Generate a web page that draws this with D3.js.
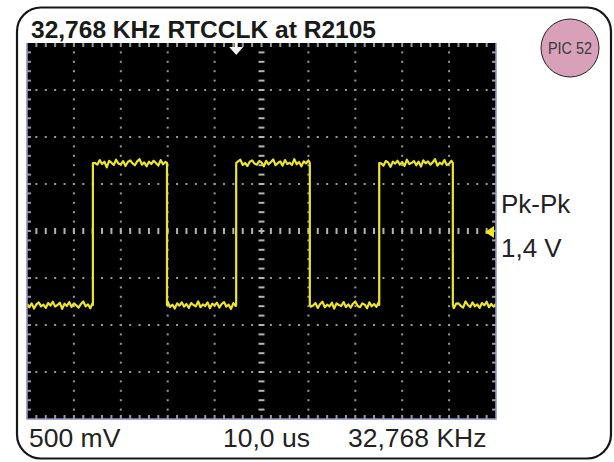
<!DOCTYPE html>
<html>
<head>
<meta charset="utf-8">
<script src="https://cdn.jsdelivr.net/npm/d3@7"></script>
<style>
  html, body { margin: 0; padding: 0; background: #fff; }
  svg { display: block; }
</style>
</head>
<body>
<svg id="chart" width="614" height="462"></svg>
<script>
// ---- labels ----
const titleText = "32,768 KHz RTCCLK at R2105";
const badgeText = "PIC 52";
const measureLabels = ["Pk-Pk", "1,4 V"];
const footerLabels = ["500 mV", "10,0 us", "32,768 KHz"];

// ---- scope settings ----
const timeDomain = [0, 100];       // us across the screen (10 us/div)
const divisionsX = 10;
const divisionsY = 8;
const minorPerDiv = 5;

// ---- captured clock waveform ----
const riseTimes = [14.05, 44.6, 75.1];   // us
const fallTimes = [29.85, 60.3, 90.8];   // us
const lowLevel = 0.0;                    // V
const highLevel = 1.4;                   // V (Pk-Pk 1,4 V)
const triggerTime = 44.6;                // us
const triggerLevel = 0.72;               // V
const sampleStep = 0.5;                  // us between samples
// noise riding on each sample, mV
const rippleMv = [
  10,-22,16,-35,6,26,-13,3,-29,19,-6,32,-16,0,22,-38,13,-10,29,-19,
  16,-3,-26,10,35,-13,6,-32,19,0,-16,29,-10,13,-42,22,3,-19,32,-6,
  -13,19,-29,10,26,-3,-22,16,38,-16,6,-32,13,-10,22,0,-26,29,-13,10,
  32,-19,3,-35,16,-6,26,-16,10,-29,19,0,-13,35,-22,6,-10,26,-32,13,
  -3,22,-26,10,29,-16,3,-38,19,-10,16,32,-19,0,-29,13,26,-6,-16,19,
  6,-32,22,-13,10,35,-22,0,16,-26,29,-10,3,-19,38,-13,10,-32,16,-3,
  26,-16,-6,19,-29,10,32,-22,3,-13,22,-35,16,0,-10,29,-19,6,-26,13,
  35,-10,-22,16,3,-32,26,-13,10,-19,29,-3,-26,19,6,-38,13,-6,22,-16,
  10,-29,32,-10,0,19,-22,13,-35,26,-3,16,-16,6,38,-26,3,-13,29,-19,
  -6,22,-32,13,16,-10,-26,35,0,-19,26,-13,6,-29,19,-3,32,-22,10,-16,
  13
];

// ---- layout ----
const svg = d3.select("#chart");
const screen = { left: 27, right: 496, top: 43, bottom: 419 };

const gx = d3.scaleLinear().domain([0, divisionsX]).range([screen.left, screen.right]);
const gy = d3.scaleLinear().domain([0, divisionsY]).range([screen.top, screen.bottom]);
const x = d3.scaleLinear().domain(timeDomain).range([screen.left, screen.right]);
const y = d3.scaleLinear().domain([lowLevel, highLevel]).range([305, 163]);

// outer rounded frame
svg.append("rect")
  .attr("x", 17).attr("y", 7.5)
  .attr("width", 594).attr("height", 451)
  .attr("rx", 24).attr("ry", 24)
  .attr("fill", "#fff")
  .attr("stroke", "#161616")
  .attr("stroke-width", 2.2);

// title
svg.append("text")
  .attr("x", 31).attr("y", 38)
  .attr("font-family", "'Liberation Sans', Arial, sans-serif")
  .attr("font-weight", "bold")
  .attr("font-size", 23)
  .attr("fill", "#1a1a1a")
  .attr("textLength", 345)
  .attr("lengthAdjust", "spacingAndGlyphs")
  .text(titleText);

// badge
const badge = svg.append("g").attr("transform", "translate(570,48)");
badge.append("circle").attr("r", 29)
  .attr("fill", "#d9a1b9").attr("stroke", "#222").attr("stroke-width", 1);
badge.append("text")
  .attr("text-anchor", "middle").attr("y", 6)
  .attr("font-family", "'Liberation Sans Narrow', 'Liberation Sans', Arial, sans-serif")
  .attr("font-size", 16)
  .attr("fill", "#3a3a3a")
  .attr("textLength", 44)
  .attr("lengthAdjust", "spacingAndGlyphs")
  .text(badgeText);

// scope screen
const scope = svg.append("g");
scope.append("rect")
  .attr("x", screen.left).attr("y", screen.top)
  .attr("width", screen.right - screen.left)
  .attr("height", screen.bottom - screen.top)
  .attr("fill", "#000");

const minorX = d3.range(0, divisionsX * minorPerDiv + 1).map(i => i / minorPerDiv);
const minorY = d3.range(0, divisionsY * minorPerDiv + 1).map(i => i / minorPerDiv);
const grid = scope.append("g").attr("fill", "#9a9a9a");

// dotted graticule lines
d3.range(1, divisionsX).filter(k => k !== divisionsX / 2).forEach(k => {
  grid.selectAll(null).data(minorY.slice(1, -1)).join("rect")
    .attr("x", gx(k) - 1).attr("y", d => gy(d) - 1)
    .attr("width", 2).attr("height", 2);
});
d3.range(1, divisionsY).filter(k => k !== divisionsY / 2).forEach(k => {
  grid.selectAll(null).data(minorX.slice(1, -1)).join("rect")
    .attr("x", d => gx(d) - 1).attr("y", gy(k) - 1)
    .attr("width", 2).attr("height", 2);
});
// centre cross with tick dashes
grid.selectAll(null).data(minorY.slice(1, -1)).join("rect")
  .attr("x", gx(divisionsX / 2) - 3).attr("y", d => gy(d) - 1)
  .attr("width", 6).attr("height", 2).attr("fill", "#b4b4b4");
grid.selectAll(null).data(minorX.slice(1, -1)).join("rect")
  .attr("x", d => gx(d) - 1).attr("y", gy(divisionsY / 2) - 3)
  .attr("width", 2).attr("height", 6).attr("fill", "#b4b4b4");
// edge ticks
grid.selectAll(null).data(minorX.slice(1, -1)).join("rect")
  .attr("x", d => gx(d) - 1).attr("y", screen.top)
  .attr("width", 2).attr("height", 4);
grid.selectAll(null).data(minorX.slice(1, -1)).join("rect")
  .attr("x", d => gx(d) - 1).attr("y", screen.bottom - 4)
  .attr("width", 2).attr("height", 4);
grid.selectAll(null).data(minorY.slice(1, -1)).join("rect")
  .attr("x", screen.left).attr("y", d => gy(d) - 1)
  .attr("width", 4).attr("height", 2);
grid.selectAll(null).data(minorY.slice(1, -1)).join("rect")
  .attr("x", screen.right - 4).attr("y", d => gy(d) - 1)
  .attr("width", 4).attr("height", 2);

// build the trace: flat levels with noise, vertical edges
const edges = riseTimes.map(t => ({ t, to: highLevel }))
  .concat(fallTimes.map(t => ({ t, to: lowLevel })))
  .sort((a, b) => a.t - b.t);
const trace = [];
let level = lowLevel, e = 0;
rippleMv.forEach((mv, i) => {
  const t = i * sampleStep;
  while (e < edges.length && edges[e].t <= t) {
    trace.push([edges[e].t, level]);
    level = edges[e].to;
    trace.push([edges[e].t, level]);
    e++;
  }
  trace.push([t, level + mv / 1000]);
});

svg.append("clipPath").attr("id", "screenClip")
  .append("rect")
  .attr("x", screen.left).attr("y", screen.top)
  .attr("width", screen.right - screen.left)
  .attr("height", screen.bottom - screen.top);

scope.append("path")
  .datum(trace)
  .attr("clip-path", "url(#screenClip)")
  .attr("fill", "none")
  .attr("stroke", "#ece52a")
  .attr("stroke-width", 2.2)
  .attr("stroke-linejoin", "round")
  .attr("d", d3.line().x(d => x(d[0])).y(d => y(d[1])));

// trigger markers
const tx = x(triggerTime);
scope.append("rect")
  .attr("x", tx - 1.5).attr("y", screen.top).attr("width", 3).attr("height", 4)
  .attr("fill", "#fff");
scope.append("path")
  .attr("d", `M${tx - 7},${screen.top + 4}L${tx + 7},${screen.top + 4}L${tx},${screen.top + 12}Z`)
  .attr("fill", "#f4f4f4");
const ty = y(triggerLevel);
scope.append("path")
  .attr("d", `M${screen.right - 11},${ty}L${screen.right - 2},${ty - 6}L${screen.right - 2},${ty + 6}Z`)
  .attr("fill", "#f2ea1e");

// lavender screen edge
scope.append("path")
  .attr("d", `M${screen.left},${screen.top}V${screen.bottom}H${screen.right}V${screen.top}`)
  .attr("fill", "none")
  .attr("stroke", "#8e92c6")
  .attr("stroke-width", 1.6);

// measurement readout
const textFont = "'Liberation Sans', Arial, sans-serif";
svg.selectAll(".measure").data(measureLabels).join("text")
  .attr("class", "measure")
  .attr("x", 501)
  .attr("y", (d, i) => 213 + i * 44)
  .attr("font-family", textFont)
  .attr("font-size", 26)
  .attr("fill", "#222")
  .text(d => d);

// footer settings
const footerX = [29, 223, 348];
svg.selectAll(".footer").data(footerLabels).join("text")
  .attr("class", "footer")
  .attr("x", (d, i) => footerX[i])
  .attr("y", 447)
  .attr("font-family", textFont)
  .attr("font-size", 26.5)
  .attr("fill", "#222")
  .text(d => d);
</script>
</body>
</html>
